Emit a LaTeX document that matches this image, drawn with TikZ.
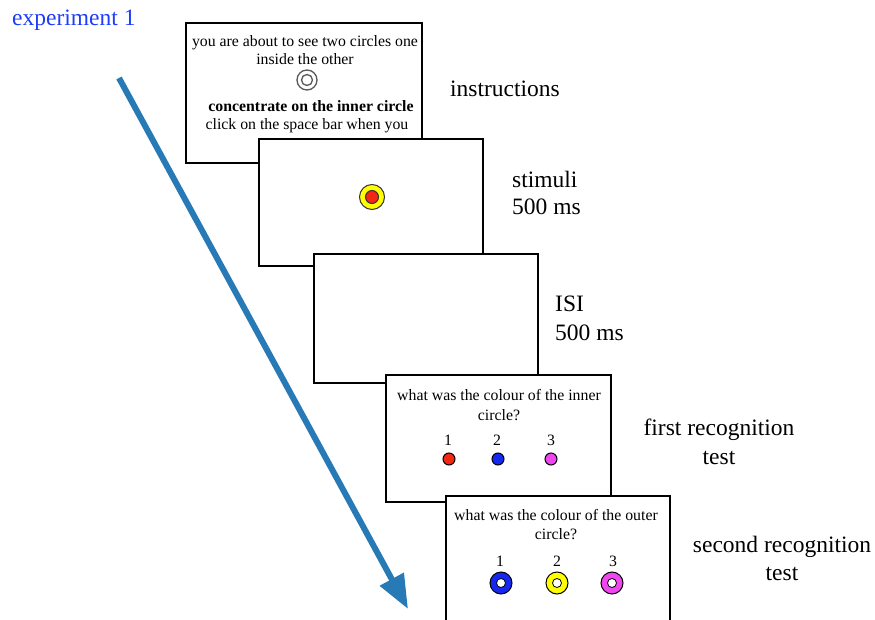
\documentclass[tikz,border=0pt]{standalone}
\usepackage{fontspec}
\setmainfont{Liberation Serif}
\usetikzlibrary{arrows.meta}
\definecolor{arrowblue}{RGB}{40,122,182}
\definecolor{expblue}{RGB}{30,60,250}
\definecolor{cred}{RGB}{240,40,20}
\definecolor{cblue}{RGB}{20,40,240}
\definecolor{cmag}{RGB}{240,70,240}
\definecolor{cyel}{RGB}{255,255,0}
\begin{document}
\begin{tikzpicture}[x=1pt,y=-1pt,
  screen/.style={draw=black,line width=2pt,fill=white,inner sep=0pt,outer sep=0pt,anchor=north west},
  small/.style={font=\fontsize{15.8}{19}\selectfont,inner sep=0pt,anchor=base},
  lbl/.style={font=\fontsize{23.5}{29}\selectfont,inner sep=0pt,anchor=base west},
  lblc/.style={font=\fontsize{23.5}{29}\selectfont,inner sep=0pt,anchor=base},
  dot/.style={circle,draw=black,line width=1pt,minimum size=12pt,inner sep=0pt},
  ring/.style={circle,draw=black,line width=1pt,minimum size=22pt,inner sep=0pt},
  hole/.style={circle,draw=black,line width=0.8pt,fill=white,minimum size=9pt,inner sep=0pt},
  arrowline/.style={draw=arrowblue,line width=6pt,-{Triangle[width=26pt,length=34pt]}}
]
\useasboundingbox (0,0) rectangle (875,620);
\clip (0,0) rectangle (875,620);

% title
\node[lbl,text=expblue] (title) at (12,26) {experiment 1};

% arrow
\coordinate (a0) at (119,78);
\coordinate (a1) at (408,609);
\draw[arrowline] (a0) -- (a1);

% screen 1: instructions
\node[screen,minimum width=236pt,minimum height=140pt] (s1) at (186,23) {};
\node[small] (t11) at (305,47) {you are about to see two circles one};
\node[small] (t12) at (305,65) {inside the other};
\node[circle,draw=black!65,line width=1.3pt,minimum size=20pt,inner sep=0pt] (c1o) at (307,80) {};
\node[circle,draw=black!65,line width=1.3pt,minimum size=11pt,inner sep=0pt] (c1i) at (307,80) {};
\node[small,font=\fontsize{15.8}{19}\selectfont\bfseries] (t13) at (311,112) {concentrate on the inner circle};
\node[small] (t14) at (307,130) {click on the space bar when you};

% screen 2: stimuli
\node[screen,minimum width=224pt,minimum height=127pt] (s2) at (259,139) {};
\node[circle,draw=black!80,line width=1pt,fill=cyel,minimum size=25pt,inner sep=0pt] (st1) at (372,197) {};
\node[circle,draw=black!80,line width=1pt,fill=cred,minimum size=13pt,inner sep=0pt] (st2) at (372,197) {};

% screen 3: ISI
\node[screen,minimum width=224pt,minimum height=129pt] (s3) at (314,254) {};

% screen 4: first recognition
\node[screen,minimum width=225pt,minimum height=127pt] (s4) at (386,375) {};
\node[small] (t41) at (499,400) {what was the colour of the inner};
\node[small] (t42) at (499,420) {circle?};
\node[small] (n41) at (448,445) {1};
\node[small] (n42) at (497,445) {2};
\node[small] (n43) at (551,445) {3};
\node[dot,fill=cred] (d41) at (449,459) {};
\node[dot,fill=cblue] (d42) at (498,459) {};
\node[dot,fill=cmag] (d43) at (551,459) {};

% screen 5: second recognition
\node[screen,minimum width=224pt,minimum height=150pt] (s5) at (446,496) {};
\node[small] (t51) at (556,520) {what was the colour of the outer};
\node[small] (t52) at (556,539) {circle?};
\node[small] (n51) at (500,566) {1};
\node[small] (n52) at (557,566) {2};
\node[small] (n53) at (613,566) {3};
\node[ring,fill=cblue] (r51) at (501,583) {};
\node[hole] (h51) at (501,583) {};
\node[ring,fill=cyel] (r52) at (557,583) {};
\node[hole] (h52) at (557,583) {};
\node[ring,fill=cmag] (r53) at (612,583) {};
\node[hole] (h53) at (612,583) {};

% labels
\node[lbl] (l1) at (450,97) {instructions};
\node[lbl] (l2a) at (512,188) {stimuli};
\node[lbl] (l2b) at (512,215) {500 ms};
\node[lbl] (l3a) at (555,312) {ISI};
\node[lbl] (l3b) at (555,340) {500 ms};
\node[lblc] (l4a) at (719,435) {first recognition};
\node[lblc] (l4b) at (719,464) {test};
\node[lblc] (l5a) at (782,552) {second recognition};
\node[lblc] (l5b) at (782,580) {test};
\end{tikzpicture}
\end{document}
